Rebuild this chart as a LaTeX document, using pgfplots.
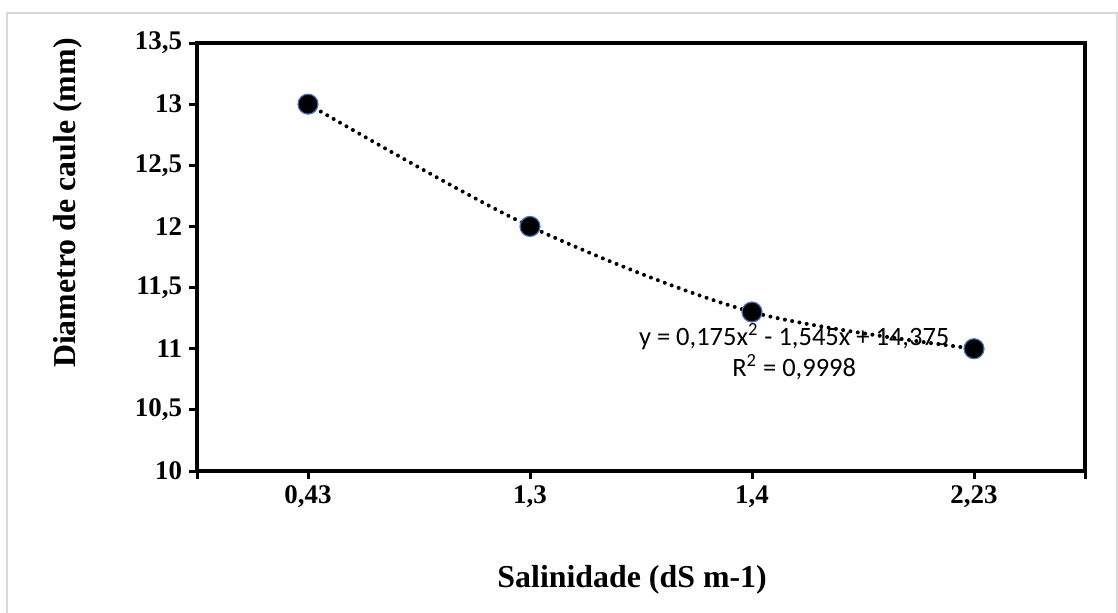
\documentclass[border=0pt]{standalone}
\usepackage{fontspec}
\setmainfont{Liberation Serif}
\newfontfamily\calibri{Carlito}
\usepackage{pgfplots}
\pgfplotsset{compat=1.18}
\definecolor{markedge}{HTML}{4472C4}
\definecolor{chartframe}{HTML}{D9D9D9}

\begin{document}
\begin{tikzpicture}[x=1bp,y=1bp]
% chart area frame
\draw[chartframe, line width=0.9bp] (3.5,-3) rectangle (558.5,299.5);
\begin{axis}[
  at={(98.5bp,70.5bp)}, anchor=south west,
  width=444bp, height=214bp, scale only axis,
  xmin=0.5, xmax=4.5, ymin=10, ymax=13.5,
  xtick={1,2,3,4}, xticklabels={{0,43},{1,3},{1,4},{2,23}},
  extra x ticks={0.5,4.5}, extra x tick labels={},
  ytick={10,10.5,11,11.5,12,12.5,13,13.5},
  /pgf/number format/use comma,
  /pgf/number format/assume math mode=true,
  tick pos=left, tick align=outside, major tick length=4bp,
  tick style={black, line width=1.5bp},
  axis line style={black, line width=1.8bp},
  ticklabel style={font=\bfseries\fontsize{13.5}{16}\selectfont},
  xlabel={Salinidade (dS m-1)},
  xlabel style={font=\bfseries\fontsize{16}{19}\selectfont,
    at={(axis description cs:0.49,-0.255)}, anchor=center},
  ylabel={Diametro de caule (mm)},
  ylabel style={font=\bfseries\fontsize{16}{19}\selectfont,
    at={(axis description cs:-0.145,0.626)}, anchor=center},
  clip=false,
]
% polynomial trendline (dotted)
\addplot[black, line width=2bp, line cap=round, dash pattern=on 0pt off 3.7bp, smooth]
  coordinates {(1,13) (2,12) (3,11.3) (4,11)};
% observed means
\addplot[only marks, mark=*, mark size=5bp,
  mark options={fill=black, draw=markedge, line width=0.6bp}]
  coordinates {(1,13) (2,12) (3,11.3) (4,11)};
\node[font=\calibri\fontsize{13.3}{15.5}\selectfont, align=center]
  at (axis cs:3.19,10.975)
  {y = 0,175x\textsuperscript{2} - 1,545x + 14,375\\R\textsuperscript{2} = 0,9998};
\end{axis}
\pgfresetboundingbox
\path (0,0) rectangle (559,306);
\end{tikzpicture}
\end{document}
